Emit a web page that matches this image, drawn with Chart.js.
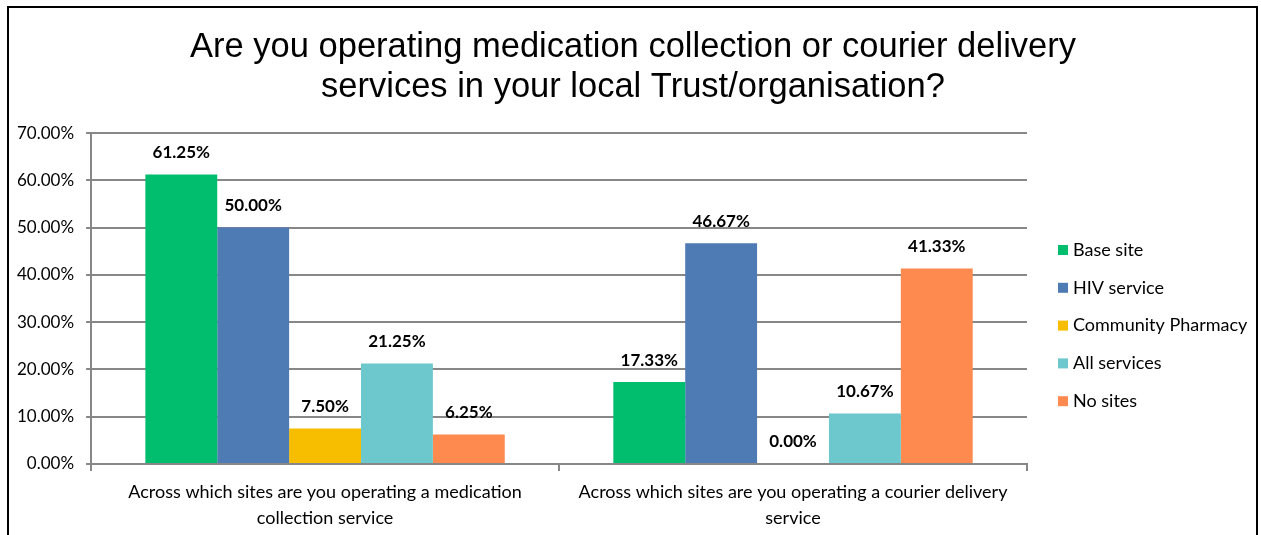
<!DOCTYPE html>
<html>
<head>
<meta charset="utf-8">
<script src="https://cdn.jsdelivr.net/npm/chart.js@4.4.0/dist/chart.umd.min.js"></script>
<style>
    body { margin: 0; background: #fff; }
    #wrap { position: relative; width: 1261px; height: 535px; overflow: hidden; }
    #frame {
        position: absolute; left: 7px; top: 6px; width: 1251px; height: 560px;
        border: 2px solid #000; box-sizing: border-box;
    }
    #box { position: absolute; left: 0; top: 0; width: 1261px; height: 535px; }
</style>
</head>
<body>
<div id="wrap">
    <div id="frame"></div>
    <div id="box"><canvas id="chart"></canvas></div>
</div>
<script>
// Categories and values (percent)
const categories = [
    ['Across which sites are you operating a medication', 'collection service'],
    ['Across which sites are you operating a courier delivery', 'service']
];
const seriesNames = ['Base site', 'HIV service', 'Community Pharmacy', 'All services', 'No sites'];
const baseSite = [61.25, 17.33];
const hivService = [50.00, 46.67];
const communityPharmacy = [7.50, 0.00];
const allServices = [21.25, 10.67];
const noSites = [6.25, 41.33];
const yTicks = [0, 10, 20, 30, 40, 50, 60, 70];

const colors = ['#00BE6E', '#4F7BB5', '#F7BE00', '#6CC8CC', '#FF8A50'];
const gridGray = '#878787';
const labelFont = 'Lato, "Open Sans", sans-serif';

const values = [baseSite, hivService, communityPharmacy, allServices, noSites];

// Values written above each bar
const valueLabels = {
    id: 'valueLabels',
    afterDatasetsDraw(chart) {
        const ctx = chart.ctx;
        ctx.save();
        ctx.font = 'bold 17px ' + labelFont;
        ctx.fillStyle = '#000';
        ctx.textAlign = 'center';
        ctx.textBaseline = 'middle';
        chart.data.datasets.forEach((ds, i) => {
            const meta = chart.getDatasetMeta(i);
            meta.data.forEach((bar, j) => {
                ctx.fillText(ds.data[j].toFixed(2) + '%', bar.x, bar.y - 22);
            });
        });
        ctx.restore();
    }
};

// Legend column to the right of the plot
const sideLegend = {
    id: 'sideLegend',
    afterDraw(chart) {
        const ctx = chart.ctx;
        const x = chart.chartArea.right + 31;
        const y0 = 250;
        const step = 37.8;
        ctx.save();
        ctx.font = '18px ' + labelFont;
        ctx.textBaseline = 'middle';
        ctx.textAlign = 'left';
        chart.data.datasets.forEach((ds, i) => {
            const y = y0 + i * step;
            ctx.fillStyle = ds.backgroundColor;
            ctx.fillRect(x, y - 5, 10, 10);
            ctx.fillStyle = '#000';
            ctx.fillText(ds.label, x + 15, y);
        });
        ctx.restore();
    }
};

new Chart(document.getElementById('chart'), {
    type: 'bar',
    data: {
        labels: categories,
        datasets: seriesNames.map((name, i) => ({
            label: name,
            data: values[i],
            backgroundColor: colors[i],
            borderWidth: 0,
            categoryPercentage: 0.768,
            barPercentage: 1
        }))
    },
    options: {
        responsive: true,
        maintainAspectRatio: false,
        animation: false,
        layout: { padding: { left: 5, right: 0, top: 0, bottom: 0 } },
        plugins: {
            title: {
                display: true,
                text: ['Are you operating medication collection or courier delivery',
                       'services in your local Trust/organisation?'],
                color: '#000',
                font: { family: '"Liberation Sans", Arial, sans-serif', size: 34.5, weight: 'normal', lineHeight: 1.16 },
                padding: { top: 27, bottom: 26 }
            },
            legend: { display: false },
            tooltip: { enabled: false }
        },
        scales: {
            x: {
                afterFit(scale) { scale.height = 71; },
                grid: {
                    offset: true,
                    drawOnChartArea: false,
                    color: gridGray,
                    lineWidth: 2,
                    tickLength: 7
                },
                border: { color: gridGray, width: 2 },
                ticks: {
                    color: '#000',
                    font: { family: labelFont, size: 18, lineHeight: 1.44 },
                    padding: 8,
                    maxRotation: 0
                }
            },
            y: {
                min: 0,
                max: 70,
                afterBuildTicks(scale) {
                    scale.ticks = yTicks.map(v => ({ value: v }));
                },
                grid: { color: gridGray, lineWidth: 2, tickLength: 5 },
                border: { color: gridGray, width: 2 },
                ticks: {
                    color: '#000',
                    font: { family: labelFont, size: 17 },
                    padding: 12,
                    callback: v => v.toFixed(2) + '%'
                }
            },
            // empty right-hand axis that reserves room for the legend column
            side: {
                position: 'right',
                afterFit(scale) { scale.width = 234; },
                grid: { display: false },
                border: { display: false },
                ticks: { display: false }
            }
        }
    },
    plugins: [valueLabels, sideLegend]
});
</script>
</body>
</html>
